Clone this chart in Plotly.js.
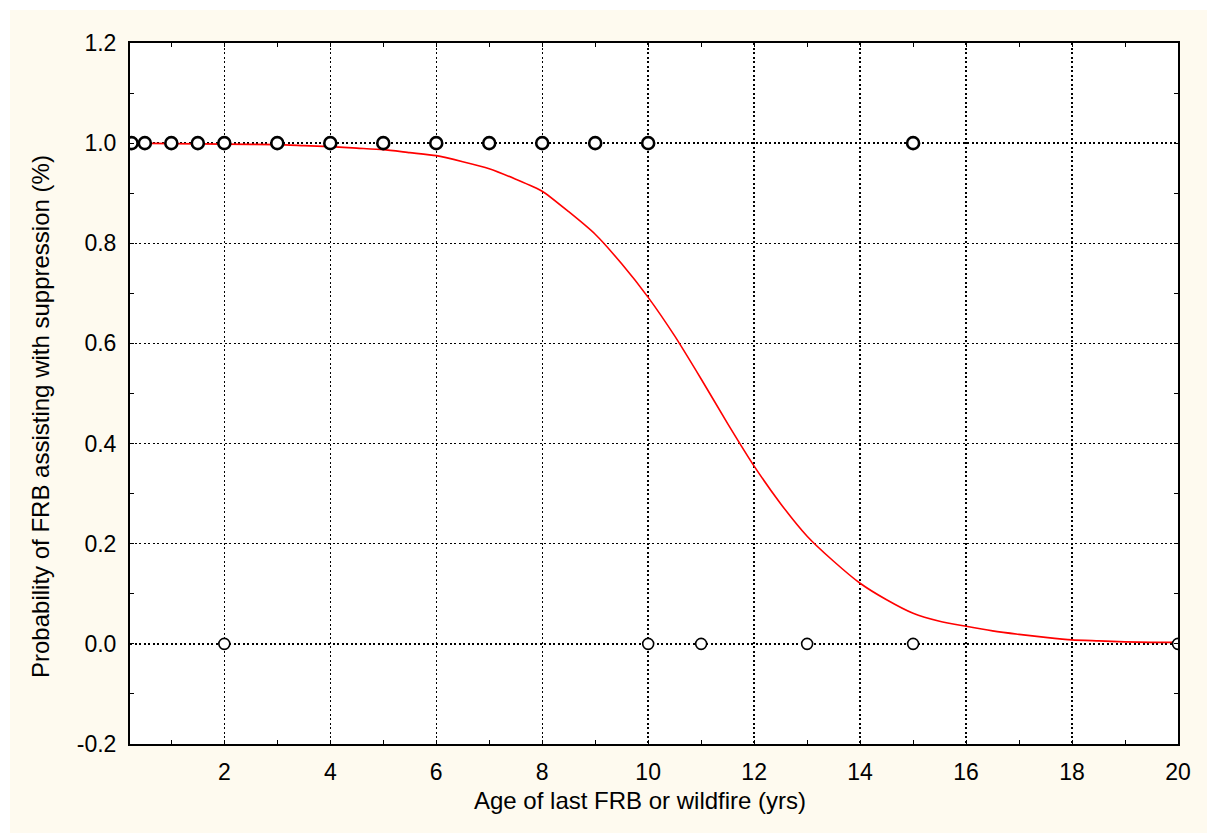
<!DOCTYPE html>
<html>
<head>
<meta charset="utf-8">
<script src="https://cdn.plot.ly/plotly-3.0.1.min.js"></script>
<style>
  html, body { margin: 0; padding: 0; background: #ffffff; }
  #chart { position: absolute; left: 10px; top: 10px; width: 1197px; height: 823px; }
</style>
</head>
<body>
<div id="chart"></div>
<script>
// Observed cases: suppression assisted (1) or not (0)
const assistedAges = [0.25, 0.5, 1, 1.5, 2, 3, 4, 5, 6, 7, 8, 9, 10, 15];
const assistedVals = [1, 1, 1, 1, 1, 1, 1, 1, 1, 1, 1, 1, 1, 1];
const notAssistedAges = [2, 10, 11, 13, 15, 20];
const notAssistedVals = [0, 0, 0, 0, 0, 0];

// Fitted probability curve
const curveAges = [0.22, 1, 2, 3, 3.5, 4, 4.5, 5, 5.5, 6, 6.5, 7, 7.5, 8, 8.5, 9, 9.5, 10,
  10.5, 11, 11.5, 12, 12.5, 13, 13.5, 14, 14.5, 15, 15.5, 16, 16.5, 17, 17.5, 18, 18.5, 19, 19.5, 20];
const curveProb = [1.0, 0.999, 0.998, 0.997, 0.995, 0.993, 0.99, 0.987, 0.981, 0.975, 0.963, 0.949,
  0.928, 0.904, 0.863, 0.818, 0.759, 0.692, 0.615, 0.529, 0.44, 0.355, 0.28, 0.215, 0.165, 0.121,
  0.088, 0.061, 0.045, 0.035, 0.026, 0.019, 0.013, 0.008, 0.006, 0.004, 0.003, 0.003];

// Tick labels and titles
const xTickVals = [2, 4, 6, 8, 10, 12, 14, 16, 18, 20];
const xTickText = ["2", "4", "6", "8", "10", "12", "14", "16", "18", "20"];
const yTickVals = [-0.2, 0, 0.2, 0.4, 0.6, 0.8, 1.0, 1.2];
const yTickText = ["-0.2", "0.0", "0.2", "0.4", "0.6", "0.8", "1.0", "1.2"];
const xTitle = "Age of last FRB or wildfire (yrs)";
const yTitle = "Probability of FRB assisting with suppression (%)";

const FONT = "Liberation Sans, Arial, sans-serif";

const traces = [
  {
    x: curveAges, y: curveProb, type: "scatter", mode: "lines",
    line: { color: "#ff0000", width: 1.6, shape: "spline", smoothing: 0.6 },
    hoverinfo: "skip"
  },
  {
    x: notAssistedAges, y: notAssistedVals, type: "scatter", mode: "markers",
    marker: { symbol: "circle", size: 11, color: "#ffffff", line: { color: "#000000", width: 1.6 } }
  },
  {
    x: assistedAges, y: assistedVals, type: "scatter", mode: "markers",
    marker: { symbol: "circle", size: 12, color: "#ffffff", line: { color: "#000000", width: 2.6 } }
  }
];

const axisCommon = {
  showline: true, mirror: "ticks", linecolor: "#000000", linewidth: 2,
  showgrid: true, gridcolor: "#000000", gridwidth: 1.4, griddash: "2px,2.5px",
  zeroline: false, ticks: "inside", ticklen: 4, tickwidth: 1, tickcolor: "#000000",
  tickfont: { family: FONT, size: 23, color: "#000000" }
};

const layout = {
  width: 1197, height: 823,
  paper_bgcolor: "#fefaef", plot_bgcolor: "#ffffff",
  margin: { l: 120, r: 29, t: 33, b: 89 },
  showlegend: false,
  font: { family: FONT, color: "#000000" },
  xaxis: Object.assign({}, axisCommon, {
    range: [0.22, 20],
    tickmode: "array", tickvals: xTickVals, ticktext: xTickText,
    ticklabelstandoff: 6,
    minor: { dtick: 1, tick0: 1, ticks: "inside", ticklen: 4, tickcolor: "#000000", showgrid: false }
  }),
  yaxis: Object.assign({}, axisCommon, {
    range: [-0.2, 1.2],
    tickmode: "array", tickvals: yTickVals, ticktext: yTickText,
    ticklabelstandoff: 7,
    minor: { dtick: 0.1, tick0: 0.1, ticks: "inside", ticklen: 4, tickcolor: "#000000", showgrid: false }
  }),
  annotations: [
    { text: xTitle, xref: "paper", yref: "paper", x: 0.4866, y: -0.0813,
      xanchor: "center", yanchor: "middle", showarrow: false,
      font: { family: FONT, size: 24, color: "#000000" } },
    { text: yTitle, xref: "paper", yref: "paper", x: -0.0859, y: 0.4679, textangle: -90,
      xanchor: "center", yanchor: "middle", showarrow: false,
      font: { family: FONT, size: 24, color: "#000000" } }
  ]
};

Plotly.newPlot("chart", traces, layout, { displayModeBar: false, staticPlot: true });
</script>
</body>
</html>
